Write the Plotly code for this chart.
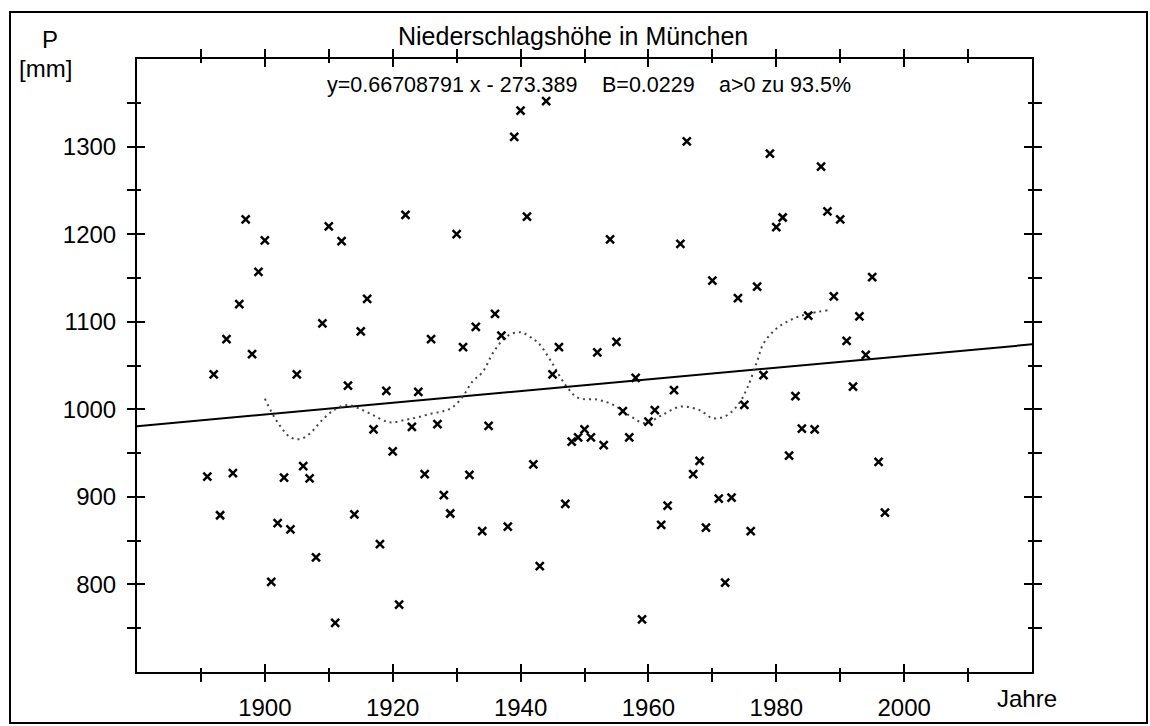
import plotly.graph_objects as go

# ---- data ----
years = list(range(1891, 1998))
precip = [
    923, 1040, 879, 1080, 927, 1120, 1217, 1063, 1157, 1193,   # 1891-1900
    803, 870, 922, 863, 1040, 935, 921, 831, 1098, 1209,       # 1901-1910
    756, 1192, 1027, 880, 1089, 1126, 977, 846, 1021, 952,     # 1911-1920
    777, 1222, 980, 1020, 926, 1080, 983, 902, 881, 1200,      # 1921-1930
    1071, 925, 1094, 861, 981, 1109, 1084, 866, 1311, 1341,    # 1931-1940
    1220, 937, 821, 1352, 1040, 1071, 892, 963, 968, 977,      # 1941-1950
    968, 1065, 959, 1194, 1077, 998, 968, 1036, 760, 986,      # 1951-1960
    999, 868, 890, 1022, 1189, 1306, 926, 941, 865, 1147,      # 1961-1970
    898, 802, 899, 1127, 1005, 861, 1140, 1039, 1292, 1208,    # 1971-1980
    1219, 947, 1015, 978, 1107, 977, 1277, 1226, 1129, 1217,   # 1981-1990
    1078, 1026, 1106, 1062, 1151, 940, 882,                    # 1991-1997
]

smooth_years = [1900, 1902, 1904, 1905.5, 1907, 1909, 1911, 1913, 1915, 1917,
                1919, 1920, 1922, 1924, 1926, 1928, 1929.5, 1931, 1932.5, 1934,
                1936, 1938, 1940, 1942, 1943, 1945, 1947, 1949, 1952, 1954.5,
                1957, 1959.5, 1962, 1965, 1968, 1970, 1972, 1974, 1975.5, 1977,
                1978, 1980, 1982.5, 1985, 1988]
smooth_values = [1012, 985, 968, 966, 972, 988, 1000, 1005, 1000, 993,
                 986, 985, 988, 991, 995, 998, 1003, 1015, 1032, 1042,
                 1068, 1084, 1088, 1080, 1074, 1052, 1028, 1013, 1011, 1005,
                 993, 984, 993, 1003, 999, 990, 992, 1005, 1025, 1055,
                 1075, 1092, 1103, 1109, 1113]

trend_slope = 0.66708791
trend_intercept = -273.389
trend_years = [1880, 2020]
trend_values = [trend_slope * yr + trend_intercept for yr in trend_years]

x_tick_vals = [1900, 1920, 1940, 1960, 1980, 2000]
x_tick_text = ["1900", "1920", "1940", "1960", "1980", "2000"]
x_minor_vals = [1890, 1910, 1930, 1950, 1970, 1990, 2010]
y_tick_vals = [800, 900, 1000, 1100, 1200, 1300]
y_tick_text = ["800", "900", "1000", "1100", "1200", "1300"]
y_minor_vals = [750, 850, 950, 1050, 1150, 1250, 1350]

title_text = "Niederschlagshöhe in München"
eq_text = "y=0.66708791 x - 273.389"
b_text = "B=0.0229"
a_text = "a>0 zu 93.5%"

FONT = "Liberation Sans, Arial, sans-serif"

fig = go.Figure()

fig.add_trace(go.Scatter(x=trend_years, y=trend_values, mode="lines",
                         line=dict(color="black", width=2), hoverinfo="skip"))
fig.add_trace(go.Scatter(x=smooth_years, y=smooth_values, mode="lines",
                         line=dict(color="#444444", width=2, dash="2px,4px", shape="spline"),
                         hoverinfo="skip"))
fig.add_trace(go.Scatter(x=years, y=precip, mode="markers",
                         marker=dict(symbol="x-thin", size=8, color="black",
                                     line=dict(color="black", width=2.5))))
# invisible traces so the twin axes (inner halves of ticks) are drawn
fig.add_trace(go.Scatter(x=[1950], y=[1000], xaxis="x2", yaxis="y", mode="markers",
                         marker=dict(opacity=0), hoverinfo="skip"))
fig.add_trace(go.Scatter(x=[1950], y=[1000], xaxis="x", yaxis="y2", mode="markers",
                         marker=dict(opacity=0), hoverinfo="skip"))

common_x = dict(range=[1880, 2020], showgrid=False, zeroline=False, automargin=False)
common_y = dict(range=[700, 1400], showgrid=False, zeroline=False, automargin=False)

fig.update_layout(
    template="none",
    width=1150, height=726,
    margin=dict(l=137, r=118, t=59, b=54, autoexpand=False),
    paper_bgcolor="white", plot_bgcolor="white",
    showlegend=False,
    font=dict(family=FONT, color="black"),
    xaxis=dict(**common_x, showline=True, linecolor="black", linewidth=2, mirror="allticks",
               ticks="outside", ticklen=8, tickwidth=1.5, tickcolor="black",
               tickvals=x_tick_vals, ticktext=x_tick_text,
               tickfont=dict(size=24, family=FONT), ticklabelstandoff=5,
               minor=dict(tickvals=x_minor_vals, ticks="outside", ticklen=4,
                          tickwidth=1.5, tickcolor="black")),
    yaxis=dict(**common_y, showline=True, linecolor="black", linewidth=2, mirror="allticks",
               ticks="outside", ticklen=8, tickwidth=1.5, tickcolor="black",
               tickvals=y_tick_vals, ticktext=y_tick_text,
               tickfont=dict(size=24, family=FONT), ticklabelstandoff=6,
               minor=dict(tickvals=y_minor_vals, ticks="outside", ticklen=4,
                          tickwidth=1.5, tickcolor="black")),
    xaxis2=dict(**common_x, overlaying="x", anchor="y", side="bottom",
                showline=False, mirror="allticks",
                ticks="inside", ticklen=8, tickwidth=1.5, tickcolor="black",
                tickvals=x_tick_vals, showticklabels=False,
                minor=dict(tickvals=x_minor_vals, ticks="inside", ticklen=4,
                           tickwidth=1.5, tickcolor="black")),
    yaxis2=dict(**common_y, overlaying="y", anchor="x", side="left",
                showline=False, mirror="allticks",
                ticks="inside", ticklen=8, tickwidth=1.5, tickcolor="black",
                tickvals=y_tick_vals, showticklabels=False,
                minor=dict(tickvals=y_minor_vals, ticks="inside", ticklen=4,
                           tickwidth=1.5, tickcolor="black")),
)

def ann(text, x, y, size, xanchor="center", yanchor="middle"):
    fig.add_annotation(text=text, x=x, y=y, xref="paper", yref="paper",
                       xanchor=xanchor, yanchor=yanchor, showarrow=False,
                       font=dict(size=size, family=FONT, color="black"))

ann(title_text, 0.4877, 1.0375, 25)
ann("P", -0.0972, 1.031, 24)
ann("[mm]", -0.1017, 0.985, 24)
ann("Jahre", 0.9587, -0.044, 24, xanchor="left")
ann(eq_text, 0.210, 0.9576, 21.5, xanchor="left")
ann(b_text, 0.5173, 0.9576, 21.5, xanchor="left")
ann(a_text, 0.648, 0.9576, 21.5, xanchor="left")

fig.add_shape(type="rect", xref="paper", yref="paper",
              x0=-0.1419, x1=1.1285, y0=-0.0832, y1=1.0767,
              line=dict(color="black", width=2), fillcolor="rgba(0,0,0,0)")

fig.write_html("out.html")
